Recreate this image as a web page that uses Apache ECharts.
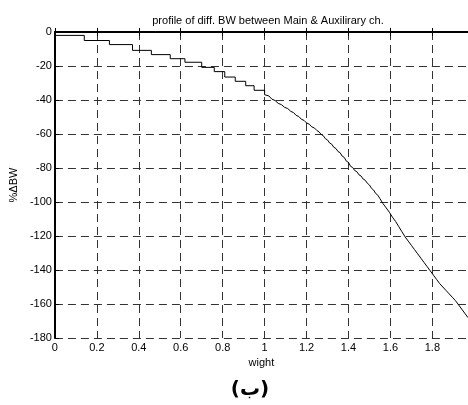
<!DOCTYPE html>
<html>
<head>
<meta charset="utf-8">
<script src="https://cdn.jsdelivr.net/npm/echarts@6/dist/echarts.min.js"></script>
<style>html,body{margin:0;padding:0;background:#fff}#c{width:468px;height:405px}</style>
</head>
<body>
<div id="c"></div>
<script>
// early part: weight values where each %ΔBW level begins (visible staircase)
var weightsStair = [0,0.14,0.26,0.37,0.46,0.55,0.62,0.70,0.76,0.81,0.86,0.91,0.95,1.00];
var dBWStair = [-2,-5,-7.4,-10.8,-13.3,-15.7,-17.8,-20.8,-23.3,-26.5,-29,-31.6,-34.3,-36.9];
// later part: fine jagged steps
var weightsLine = [1.00,1.02,1.035,1.05,1.065,1.08,1.095,1.11,1.125,1.138,1.15,1.163,1.175,1.188,
  1.20,1.213,1.225,1.238,1.25,1.26,1.27,1.28,1.29,1.30,1.31,1.32,1.33,1.34,1.35,1.36,1.37,1.38,
  1.39,1.40,1.41,1.42,1.43,1.44,1.45,1.46,1.47,1.48,1.49,1.50,1.51,1.52,1.53,1.54,1.55,1.558,
  1.565,1.573,1.58,1.588,1.595,1.603,1.61,1.618,1.625,1.633,1.64,1.648,1.655,1.663,1.67,1.678,
  1.685,1.693,1.70,1.708,1.715,1.723,1.73,1.738,1.745,1.753,1.76,1.768,1.775,1.783,1.79,1.798,
  1.805,1.813,1.82,1.828,1.835,1.843,1.85,1.858,1.865,1.873,1.88,1.888,1.895,1.903,1.91,1.918,
  1.925,1.933,1.94,1.948,1.955,1.963,1.97];
var dBWLine = [-36.9,-37.6,-39.5,-40.3,-42,-42.7,-44.3,-45,-46.7,-47.4,-49,-49.7,-51.3,-52,
  -53.5,-54.2,-55.8,-56.5,-58,-58.8,-60.3,-61,-62.8,-63.5,-65.3,-66,-67.8,-68.5,-70.3,-71,-73,-73.8,
  -76,-76.7,-79,-79.7,-81.5,-82.2,-84,-84.7,-86.5,-87.2,-89,-90,-92,-93,-95,-96,-98,-99,
  -101,-101.8,-103.5,-104.3,-106,-107,-109,-109.8,-111.5,-112.5,-114.5,-115.5,-117.5,-118.5,-120.5,-121.3,
  -123,-123.8,-125.5,-126.3,-128,-128.8,-130.5,-131.3,-133,-133.8,-135.5,-136.3,-138,-138.8,-140.5,-141.3,
  -143,-143.8,-145.5,-146.3,-148,-148.6,-150,-150.6,-152,-152.6,-154,-154.6,-156,-156.6,-158,-158.8,
  -160.5,-161.3,-163,-163.8,-165.5,-166.3,-168];
var titleText = 'profile of diff. BW between Main & Auxilirary ch.';
var xName = 'wight';
var yName = '%\u0394BW';
var caption = '(\u0628)';

var stairPts = weightsStair.map(function(w,i){return [w, dBWStair[i]];});
var linePts = weightsLine.map(function(w,i){return [w, dBWLine[i]];});
var font = 'Liberation Sans';
var chart = echarts.init(document.getElementById('c'));
chart.setOption({
  animation:false,
  backgroundColor:'#fff',
  title:{text:titleText,left:263,top:10,textAlign:'center',
    textStyle:{fontFamily:font,fontSize:11,fontWeight:'normal',color:'#000'}},
  grid:{left:52,right:0,top:32,bottom:67},
  xAxis:[{
    type:'value',min:0,max:1.97,interval:0.2,
    name:xName,nameLocation:'middle',nameGap:13,
    nameTextStyle:{fontFamily:font,fontSize:11,color:'#000'},
    axisLine:{show:true,lineStyle:{color:'#000',width:2}},
    axisTick:{show:true,inside:true,length:4,lineStyle:{color:'#000'}},
    axisLabel:{fontFamily:font,fontSize:11,color:'#000',margin:4,showMaxLabel:false},
    splitLine:{show:true,lineStyle:{color:'#333',type:[8,5],width:1}}
  },{
    type:'value',min:0,max:1.97,interval:0.2,position:'top',
    axisLine:{show:true,onZero:false,lineStyle:{color:'#000',width:1.5}},
    axisTick:{show:true,inside:true,length:4,lineStyle:{color:'#000'}},
    axisLabel:{show:false},splitLine:{show:false}
  }],
  yAxis:{
    type:'value',min:-180,max:0,interval:20,
    name:yName,nameLocation:'middle',nameGap:23,nameRotate:90,
    nameTextStyle:{fontFamily:font,fontSize:11,color:'#000'},
    axisLine:{show:true,lineStyle:{color:'#000',width:2}},
    axisTick:{show:true,inside:true,length:4,lineStyle:{color:'#000'}},
    axisLabel:{fontFamily:font,fontSize:11,color:'#000',margin:3},
    splitLine:{show:true,lineStyle:{color:'#333',type:[8,5],width:1}}
  },
  series:[{
    type:'line',step:'end',data:stairPts,showSymbol:false,
    lineStyle:{color:'#000',width:1},xAxisIndex:0
  },{
    type:'line',data:linePts,showSymbol:false,
    lineStyle:{color:'#000',width:1},xAxisIndex:0
  }],
  graphic:[{type:'text',x:250,y:390,
    style:{text:caption,font:'bold 20px "DejaVu Sans"',fill:'#000',
      textAlign:'center',textVerticalAlign:'middle'}}]
});
</script>
</body>
</html>
